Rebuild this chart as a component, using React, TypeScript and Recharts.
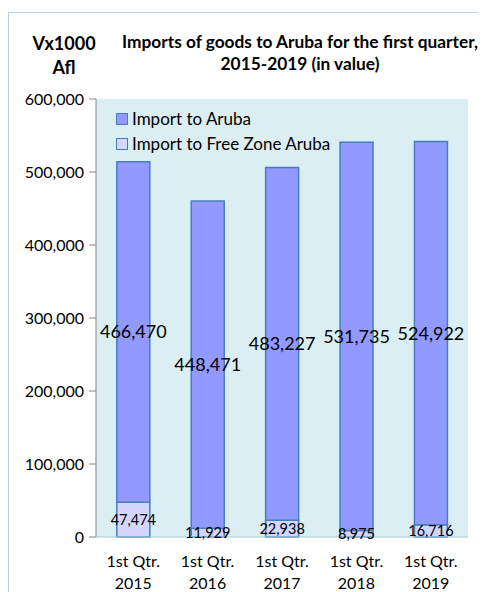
import React from 'react';
import { BarChart, Bar, XAxis, YAxis, CartesianGrid, LabelList } from 'recharts';

const quarters = ['1st Qtr.|2015', '1st Qtr.|2016', '1st Qtr.|2017', '1st Qtr.|2018', '1st Qtr.|2019'];
const importAruba = [466470, 448471, 483227, 531735, 524922];
const importFreeZone = [47474, 11929, 22938, 8975, 16716];
const yTicks = [0, 100000, 200000, 300000, 400000, 500000, 600000];

const FONT = 'Lato, "Open Sans", sans-serif';
const ARUBA_COLOR = '#9299FF';
const FREE_ZONE_COLOR = '#D3D6FF';
const BAR_STROKE = '#4A7EBB';

const data = quarters.map((q, i) => ({
  quarter: q,
  aruba: importAruba[i],
  freeZone: importFreeZone[i],
}));

const fmt = (v: number) => v.toLocaleString('en-US');

function QuarterTick({ x, y, payload }: any) {
  const [line1, line2] = String(payload.value).split('|');
  return (
    <g transform={`translate(${x},${y})`}>
      <text textAnchor="middle" fontSize={16} fontFamily={FONT} fill="#000">
        <tspan x={0} dy={22}>{line1}</tspan>
        <tspan x={0} dy={22}>{line2}</tspan>
      </text>
    </g>
  );
}

function LegendBox() {
  const items = [
    { label: 'Import to Aruba', color: ARUBA_COLOR },
    { label: 'Import to Free Zone Aruba', color: FREE_ZONE_COLOR },
  ];
  return (
    <div style={{ position: 'absolute', left: 107, top: 93, fontFamily: FONT, fontSize: 17, color: '#000' }}>
      {items.map((it) => (
        <div key={it.label} style={{ display: 'flex', alignItems: 'center', height: 25, whiteSpace: 'nowrap' }}>
          <span
            style={{
              display: 'inline-block',
              width: 10,
              height: 10,
              background: it.color,
              border: `1px solid ${BAR_STROKE}`,
              marginRight: 4,
            }}
          />
          {it.label}
        </div>
      ))}
    </div>
  );
}

export default function App() {
  return (
    <div
      style={{
        position: 'relative',
        width: 478,
        height: 580,
        marginTop: 4,
        borderTop: '1px solid #B9CDE5',
        borderLeft: '1px solid #B9CDE5',
        boxSizing: 'border-box',
        fontFamily: FONT,
        overflow: 'hidden',
      }}
    >
      <div
        style={{
          position: 'absolute',
          left: 13,
          top: 18,
          width: 84,
          textAlign: 'center',
          fontWeight: 700,
          fontSize: 18,
          lineHeight: '24px',
        }}
      >
        Vx1000
        <br />
        Afl
      </div>
      <div
        style={{
          position: 'absolute',
          left: 101,
          top: 18,
          width: 380,
          textAlign: 'center',
          fontWeight: 700,
          fontSize: 17.3,
          lineHeight: '22px',
          whiteSpace: 'nowrap',
        }}
      >
        Imports of goods to Aruba for the first quarter,
        <br />
        2015-2019 (in value)
      </div>
      <BarChart
        width={478}
        height={578}
        data={data}
        margin={{ top: 86, right: 19, bottom: 4, left: 0 }}
        barCategoryGap="28%"
      >
        <CartesianGrid fill="#DAEEF3" horizontal={false} vertical={false} stroke="none" />
        <YAxis
          width={87}
          domain={[0, 600000]}
          ticks={yTicks}
          tickFormatter={fmt}
          axisLine={{ stroke: '#868686' }}
          tickLine={{ stroke: '#868686' }}
          tickSize={7}
          tick={{ fontSize: 16, fontFamily: FONT, fill: '#000', dx: -3 }}
        />
        <XAxis
          dataKey="quarter"
          height={50}
          axisLine={{ stroke: '#A9C8DA' }}
          tickLine={false}
          tick={<QuarterTick />}
          interval={0}
        />
        <Bar dataKey="freeZone" stackId="a" fill={FREE_ZONE_COLOR} stroke={BAR_STROKE} strokeWidth={1.5} isAnimationActive={false}>
          <LabelList dataKey="freeZone" position="center" formatter={(v: any) => fmt(Number(v))} fontSize={14.5} fontFamily={FONT} fill="#000" />
        </Bar>
        <Bar dataKey="aruba" stackId="a" fill={ARUBA_COLOR} stroke={BAR_STROKE} strokeWidth={1.5} isAnimationActive={false}>
          <LabelList dataKey="aruba" position="center" formatter={(v: any) => fmt(Number(v))} fontSize={18} fontFamily={FONT} fill="#000" />
        </Bar>
      </BarChart>
      <LegendBox />
    </div>
  );
}
